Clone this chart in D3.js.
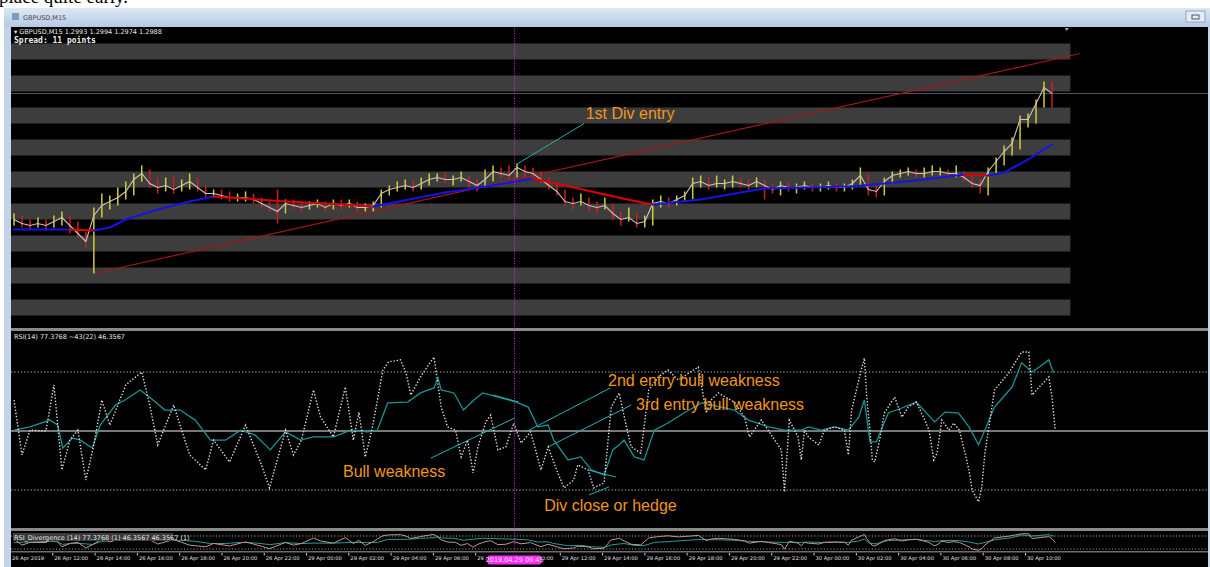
<!DOCTYPE html>
<html>
<head>
<meta charset="utf-8">
<title>GBPUSD,M15</title>
<script src="https://cdn.jsdelivr.net/npm/d3@7/dist/d3.min.js"></script>
<style>
  body { margin: 0; background: #fff; overflow: hidden; }
  svg { display: block; }
  .small { font-family: "DejaVu Sans", sans-serif; font-size: 6.5px; fill: #e6e6e6; }
  .note { font-family: "Liberation Sans", Arial, sans-serif; font-size: 16px; fill: #f0961c; }
  .taxis text { font-family: "DejaVu Sans", sans-serif; font-size: 5.2px; fill: #e0e0e0; }
  .taxis line { stroke: #d0d0d0; }
</style>
</head>
<body>
<div id="box"></div>
<script>
// GBPUSD M15 bars (close / high / low)
const closes = [1.2925,1.2923,1.2922,1.2923,1.2922,1.2924,1.2926,1.2922,1.2918,1.2914,
  1.2927,1.2932,1.2934,1.2936,1.2939,1.2945,1.2948,1.2943,1.2941,1.2942,
  1.2940,1.2942,1.2944,1.2941,1.2938,1.2938,1.2937,1.2936,1.2936,1.2936,
  1.2935,1.2933,1.2931,1.2929,1.2933,1.2932,1.2931,1.2932,1.2933,1.2931,
  1.2933,1.2932,1.2933,1.2931,1.2931,1.2932,1.2938,1.2940,1.2941,1.2942,
  1.2941,1.2943,1.2945,1.2946,1.2945,1.2945,1.2946,1.2944,1.2942,1.2945,
  1.2949,1.2948,1.2947,1.2951,1.2949,1.2948,1.2945,1.2942,1.2939,1.2934,
  1.2933,1.2934,1.2932,1.2931,1.2932,1.2928,1.2925,1.2926,1.2923,1.2924,
  1.2933,1.2934,1.2933,1.2935,1.2937,1.2943,1.2944,1.2942,1.2943,1.2943,
  1.2944,1.2943,1.2942,1.2944,1.2942,1.2940,1.2942,1.2941,1.2941,1.2942,
  1.2941,1.2941,1.2942,1.2941,1.2941,1.2943,1.2947,1.2940,1.2939,1.2944,
  1.2947,1.2948,1.2949,1.2948,1.2948,1.2949,1.2949,1.2948,1.2948,1.2946,
  1.2943,1.2942,1.2949,1.2954,1.2959,1.2963,1.2975,1.2975,1.2983,1.2991,
  1.2988]
const highs = [1.2928,1.2927,1.2925,1.2926,1.2925,1.2927,1.2929,1.2927,1.2924,1.2919,
  1.2931,1.2938,1.2937,1.2941,1.2944,1.2948,1.2952,1.2950,1.2946,1.2946,
  1.2947,1.2945,1.2948,1.2946,1.2942,1.2940,1.2940,1.2939,1.2938,1.2939,
  1.2938,1.2936,1.2934,1.2940,1.2935,1.2935,1.2934,1.2934,1.2935,1.2934,
  1.2935,1.2935,1.2935,1.2934,1.2933,1.2934,1.2940,1.2942,1.2944,1.2945,
  1.2944,1.2946,1.2948,1.2948,1.2948,1.2947,1.2949,1.2947,1.2945,1.2950,
  1.2952,1.2951,1.2952,1.2953,1.2952,1.2951,1.2949,1.2946,1.2943,1.2940,
  1.2936,1.2938,1.2936,1.2934,1.2936,1.2933,1.2929,1.2931,1.2928,1.2927,
  1.2935,1.2937,1.2936,1.2937,1.2939,1.2946,1.2947,1.2946,1.2947,1.2945,
  1.2947,1.2946,1.2945,1.2946,1.2945,1.2943,1.2944,1.2944,1.2943,1.2944,
  1.2943,1.2943,1.2944,1.2943,1.2943,1.2945,1.2951,1.2948,1.2942,1.2946,
  1.2949,1.2950,1.2951,1.2950,1.2951,1.2952,1.2951,1.2950,1.2952,1.2949,
  1.2947,1.2945,1.2951,1.2956,1.2962,1.2966,1.2977,1.2978,1.2985,1.2994,
  1.2994]
const lows = [1.2922,1.2921,1.2920,1.2921,1.2920,1.2921,1.2922,1.2918,1.2916,1.2911,
  1.2898,1.2926,1.2930,1.2932,1.2935,1.2937,1.2944,1.2941,1.2938,1.2939,
  1.2938,1.2939,1.2940,1.2939,1.2936,1.2936,1.2935,1.2934,1.2934,1.2934,
  1.2933,1.2931,1.2929,1.2923,1.2928,1.2930,1.2929,1.2930,1.2931,1.2929,
  1.2930,1.2930,1.2931,1.2929,1.2929,1.2929,1.2931,1.2937,1.2939,1.2940,
  1.2939,1.2940,1.2942,1.2944,1.2943,1.2942,1.2944,1.2941,1.2939,1.2941,
  1.2944,1.2946,1.2945,1.2946,1.2946,1.2946,1.2943,1.2940,1.2937,1.2932,
  1.2930,1.2932,1.2929,1.2928,1.2930,1.2925,1.2922,1.2924,1.2921,1.2921,
  1.2922,1.2931,1.2931,1.2932,1.2934,1.2935,1.2941,1.2940,1.2941,1.2940,
  1.2941,1.2941,1.2940,1.2941,1.2935,1.2938,1.2937,1.2939,1.2938,1.2940,
  1.2939,1.2939,1.2940,1.2939,1.2939,1.2940,1.2942,1.2937,1.2936,1.2937,
  1.2943,1.2946,1.2947,1.2946,1.2946,1.2947,1.2947,1.2946,1.2946,1.2944,
  1.2941,1.2938,1.2937,1.2948,1.2952,1.2957,1.2960,1.2971,1.2973,1.2981,
  1.2981]

// moving average (bar index / value)
const maAt = [0, 7, 10, 12, 14, 18, 22, 25, 29, 34, 39, 45, 54, 60, 65, 69, 74, 78, 80, 86, 94, 105, 113, 119, 122, 124, 127, 130]
const maValues = [1.2920, 1.2920, 1.29195, 1.2921, 1.2925, 1.2930, 1.2934, 1.29365, 1.29355, 1.2934, 1.2933, 1.29315,
  1.29385, 1.2942, 1.29455, 1.2942, 1.29375, 1.2934, 1.29325, 1.2935, 1.29405, 1.29415, 1.29445, 1.29475,
  1.2947, 1.29485, 1.2955, 1.29625]

// price zones (top of each grey band)
const bandTops = [1.3013, 1.2997, 1.2981, 1.2965, 1.2949, 1.2933, 1.2917, 1.2901, 1.2885]
const bandDepth = 0.0008

// RSI(14) and its average, vertices (bar index / value)
const rsiAt = [0,1,2,4,5,6,7,8,9,10,11,12,14,16,17,18,20,21,22,24,25,27,29,31,32,34,35,36,
  37.5,38.4,40,41.5,42.5,43.2,44,44.9,46.2,46.9,48.4,49.1,49.7,50.9,52.6,53.5,54.3,55.3,56,56.8,
  57.5,58.1,59.1,59.7,60.6,61.6,62.6,63.5,64.7,66,66.9,68.1,68.9,70.1,70.6,71.9,72.6,73.9,74.8,
  75.8,76.7,77.3,78.5,79.5,80.7,81.9,83.2,85.7,86.7,87.3,88.2,90.2,91.5,92.1,93.6,96.1,96.5,97.1,
  98.2,98.6,99,99.5,100.8,101.5,102.8,104,104.5,104.9,105.3,106.1,106.5,106.8,107.2,107.5,107.8,
  108.4,109,110.3,111.2,112,113,113.9,114.6,115.2,115.6,116.2,117.1,117.7,118.4,119.1,119.6,120,
  120.8,121.2,121.6,122.1,122.8,124.6,126.2,127.1,127.5,128.4,129.6,130,130.4]
const rsiFast = [60.5,41.9,50.3,50.0,65.6,36.8,46.9,50.3,33.4,45.3,60.5,52.0,65.6,70.0,58.8,45.3,58.8,50.3,41.9,36.8,46.9,39.5,52.0,38.5,30.7,50.3,41.9,46.9,
  63.9,54.7,48.0,64.9,46.9,56.4,41.2,51.4,70.7,73.4,74.1,69.7,62.2,68.3,75.1,58.1,51.4,50.3,41.2,46.9,
  35.8,44.6,53.1,55.4,43.6,44.6,52.7,45.9,49.7,36.8,44.6,35.8,30.7,33.4,38.5,36.8,30.7,32.4,58.1,
  62.9,51.4,44.6,42.5,63.9,68.3,70.7,67.3,71.7,56.1,60.5,62.9,59.8,54.7,48.0,53.7,43.6,29.3,53.7,
  48.0,40.2,50.3,47.9,45.3,50.3,51.4,50.3,41.9,57.1,61.5,70.7,74.7,61.5,50.3,40.2,39.5,
  46.9,56.1,61.5,54.7,58.1,59.8,54.7,50.3,40.2,42.5,53.7,50.3,52.7,50.3,42.5,36.8,30.0,
  26.0,31.0,42.5,51.4,63.9,69.7,76.8,76.8,62.2,64.9,68.3,61.5,50.3]
const sigAt = [0,2,4.5,5.5,6.1,7.3,8.3,9.8,10.8,12.7,13.9,15.8,17.1,18.9,20.8,22.7,24.6,26.5,28.4,30.2,32.1,34,35.9,
  37.5,40,42.2,44.3,45.5,46.8,49.3,50.9,52.6,53.1,53.5,55.1,56.3,57.6,58.7,59.7,61,62.9,64.4,65.6,66.9,
  67.6,69.4,71,72.3,73.9,75,75.8,76.4,77.7,78.9,80.2,81.9,83.9,86.1,88.6,90.2,92,94.5,96.5,98.6,99.5,
  101.1,102.8,104.5,105.8,106.5,107.2,108,109.5,111.2,113,115.3,116.6,118.3,119.6,120.8,121.6,122.8,
  125,126.2,127.5,128.4,129.6,130.2]
const rsiSlow = [50.3,51.4,53.7,52.0,44.2,47.6,46.9,44.2,52.0,58.8,60.5,63.9,61.2,57.1,57.1,53.7,46.9,46.9,50.3,48.6,43.6,49.7,46.9,
  48.0,48.0,50.3,49.7,50.3,59.5,59.8,62.9,64.6,68.0,63.9,62.9,57.1,60.5,62.9,62.2,61.2,59.8,58.1,51.4,52.0,
  46.9,40.2,41.2,36.8,35.1,43.6,45.3,46.9,41.2,40.2,50.3,52.7,56.1,59.5,58.1,57.1,53.7,51.4,50.3,50.3,51.4,
  50.3,51.4,50.3,54.7,60.5,46.3,46.3,56.1,57.8,59.8,53.1,56.4,56.1,51.4,45.3,50.3,58.1,
  64.9,73.1,70.0,71.7,74.1,69.7]
const rsiLevels = [70, 50, 30]

// time axis
const timeLabels = ['26 Apr 2019','26 Apr 12:00','26 Apr 14:00','26 Apr 16:00','26 Apr 18:00','26 Apr 20:00',
  '26 Apr 22:00','29 Apr 00:00','29 Apr 02:00','29 Apr 04:00','29 Apr 06:00','29 Apr 08:00','29 Apr 10:00',
  '29 Apr 12:00','29 Apr 14:00','29 Apr 16:00','29 Apr 18:00','29 Apr 20:00','29 Apr 22:00','30 Apr 00:00',
  '30 Apr 02:00','30 Apr 04:00','30 Apr 06:00','30 Apr 08:00','30 Apr 10:00']
const cursorBar = 62.7
const cursorLabel = '2019.04.29 09:45'

// hand drawn objects
const trendRed = [[10, 1.2898], [133.5, 1.3008]]
const divEntry = [[62.9, 1.29525], [71.4, 1.2973]]
const rsiLines = [
  [[52.2, 40.8], [62.7, 54.4]],
  [[64.1, 49.7], [74.7, 64.6]],
  [[66.9, 44.6], [77.3, 58.8]],
  [[71.9, 36.8], [75.4, 34.4]],
  [[72.0, 28.3], [74.5, 31.0]],
  [[60.0, 62.2], [63.2, 59.8]]
]
const rsiNotes = [
  { bar: 74.4, v: 65.3, text: '2nd entry bull weakness' },
  { bar: 77.9, v: 57.1, text: '3rd entry bull weakness' },
  { bar: 41.2, v: 34.4, text: 'Bull weakness' },
  { bar: 66.4, v: 22.9, text: 'Div close or hedge' }
]

const W = 1210, H = 567
const L = 11, R = 1208
const main = { top: 28, bot: 328 }
const rsiP = { top: 331, bot: 528 }
const sub = { top: 531, bot: 551 }

const x = d3.scaleLinear().domain([0, closes.length - 1]).range([14, 1052])
const y = d3.scaleLinear().domain([1.2870, 1.3020]).range([329.5, 29.5])
const yR = d3.scaleLinear().domain([30, 70]).range([490, 372])
const yS = d3.scaleLinear().domain([30, 70]).range([549, 536])
const xT = d3.scaleLinear().domain([0, timeLabels.length - 1]).range([10, 1025])

const svg = d3.select('#box').append('svg').attr('width', W).attr('height', H)
const defs = svg.append('defs')

// page and window chrome
svg.append('rect').attr('width', W).attr('height', H).attr('fill', '#fff')
svg.append('text').attr('x', -1).attr('y', 3)
  .attr('font-family', '"Liberation Serif", serif').attr('font-size', 19).text('place quite early.')
svg.append('rect').attr('x', 4).attr('y', 8).attr('width', W - 4).attr('height', H - 8).attr('fill', '#c3d4e9')
const g1 = defs.append('linearGradient').attr('id', 'tbar').attr('x1', 0).attr('y1', 0).attr('x2', 0).attr('y2', 1)
g1.append('stop').attr('offset', '0%').attr('stop-color', '#dfe9f5')
g1.append('stop').attr('offset', '100%').attr('stop-color', '#b4c9e4')
svg.append('rect').attr('x', 4).attr('y', 8).attr('width', W - 4).attr('height', 19).attr('fill', 'url(#tbar)')
svg.append('rect').attr('x', 12).attr('y', 13).attr('width', 7).attr('height', 7).attr('fill', '#7d9cc4')
svg.append('text').attr('x', 23).attr('y', 20).attr('font-family', '"DejaVu Sans", sans-serif')
  .attr('font-size', 6.5).attr('fill', '#4a4a4a').text('GBPUSD,M15')
svg.append('rect').attr('x', 1186).attr('y', 11).attr('width', 19).attr('height', 11)
  .attr('fill', '#e4ecf6').attr('stroke', '#8ea5c3')
svg.append('rect').attr('x', 1192).attr('y', 15).attr('width', 7).attr('height', 4).attr('fill', 'none').attr('stroke', '#555')

svg.append('rect').attr('x', L).attr('y', 27).attr('width', R - L).attr('height', H - 27).attr('fill', '#000')

// clip regions
defs.append('clipPath').attr('id', 'cMain').append('rect')
  .attr('x', L).attr('y', main.top).attr('width', R - L).attr('height', main.bot - main.top)
defs.append('clipPath').attr('id', 'cRsi').append('rect')
  .attr('x', L).attr('y', rsiP.top).attr('width', R - L).attr('height', rsiP.bot - rsiP.top)
defs.append('clipPath').attr('id', 'cSub').append('rect')
  .attr('x', L).attr('y', sub.top).attr('width', R - L).attr('height', sub.bot - sub.top)

// ---------- main price panel ----------
const gm = svg.append('g').attr('clip-path', 'url(#cMain)')

gm.selectAll('.band').data(bandTops).enter().append('rect')
  .attr('x', L).attr('width', x(132.3) - L)
  .attr('y', d => y(d)).attr('height', d => y(d - bandDepth) - y(d))
  .attr('fill', '#3d3d3d')

// bid line
const last = closes[closes.length - 1]
gm.append('line').attr('x1', L).attr('x2', R).attr('y1', y(last)).attr('y2', y(last))
  .attr('stroke', '#4c5566').attr('stroke-width', 1)

const line = d3.line().x(d => x(d[0])).y(d => y(d[1]))
gm.append('path').attr('d', line(trendRed)).attr('stroke', '#a3171b').attr('stroke-width', 1.2).attr('fill', 'none')

gm.selectAll('.bar').data(closes).enter().append('line')
  .attr('x1', (d, i) => x(i)).attr('x2', (d, i) => x(i))
  .attr('y1', (d, i) => y(highs[i])).attr('y2', (d, i) => y(lows[i]))
  .attr('stroke', (d, i) => (i === 0 || d >= closes[i - 1]) ? '#cfcf35' : '#cc2020')
  .attr('stroke-width', 1.5)

gm.append('path').attr('d', d3.line().x((d, i) => x(i)).y(d => y(d))(closes))
  .attr('stroke', '#d0c0c0').attr('stroke-width', 1.1).attr('fill', 'none')

// colour-changing moving average: red while falling, blue while rising
const maPts = maAt.map((b, i) => [b, maValues[i]])
gm.selectAll('.ma').data(d3.pairs(maPts)).enter().append('path')
  .attr('d', d => line(d))
  .attr('stroke', d => d[1][1] < d[0][1] ? '#e00000' : '#1414e6')
  .attr('stroke-width', 2).attr('fill', 'none').attr('stroke-linecap', 'round')

gm.append('path').attr('d', line(divEntry)).attr('stroke', '#1fb0b0').attr('stroke-width', 1).attr('fill', 'none')
gm.append('text').attr('class', 'note').attr('x', x(71.6)).attr('y', y(1.29755)).text('1st Div entry')

svg.append('text').attr('class', 'small').attr('x', 14).attr('y', 34).text('\u25BE GBPUSD,M15  1.2993 1.2994 1.2974 1.2988')
svg.append('text').attr('x', 14).attr('y', 43).attr('font-family', '"DejaVu Sans Mono", monospace')
  .attr('font-weight', 'bold').attr('font-size', 8).attr('fill', '#f0f0f0').text('Spread: 11 points')

// ---------- RSI panel ----------
const gr = svg.append('g').attr('clip-path', 'url(#cRsi)')
gr.selectAll('.lvl').data(rsiLevels).enter().append('line')
  .attr('x1', L).attr('x2', R).attr('y1', d => yR(d)).attr('y2', d => yR(d))
  .attr('stroke', d => d === 50 ? '#a0a0a0' : '#b4b4b4')
  .attr('stroke-width', d => d === 50 ? 1.6 : 1.2)
  .attr('stroke-dasharray', d => d === 50 ? null : '1.3,2')

const rLine = d3.line().x(d => x(d[0])).y(d => yR(d[1]))
gr.append('path').attr('d', rLine(sigAt.map((b, i) => [b, rsiSlow[i]])))
  .attr('stroke', '#179595').attr('stroke-width', 1.3).attr('fill', 'none')
gr.append('path').attr('d', rLine(rsiAt.map((b, i) => [b, rsiFast[i]])))
  .attr('stroke', '#dcdcdc').attr('stroke-width', 1.4).attr('stroke-dasharray', '1.4,1.8').attr('fill', 'none')

gr.selectAll('.ann').data(rsiLines).enter().append('path')
  .attr('d', d => rLine(d)).attr('stroke', '#20b4b4').attr('stroke-width', 1).attr('fill', 'none')
gr.selectAll('.rn').data(rsiNotes).enter().append('text').attr('class', 'note')
  .attr('x', d => x(d.bar)).attr('y', d => yR(d.v)).text(d => d.text)

svg.append('text').attr('class', 'small').attr('x', 14).attr('y', 339).attr('fill', '#c8c8c8')
  .text('RSI(14) 77.3768  ~43(22) 46.3567')

// ---------- small divergence panel ----------
const gs = svg.append('g').attr('clip-path', 'url(#cSub)')
gs.selectAll('.slvl').data([70, 30]).enter().append('line')
  .attr('x1', L).attr('x2', R).attr('y1', d => yS(d)).attr('y2', d => yS(d))
  .attr('stroke', '#9a9a9a').attr('stroke-dasharray', '1.2,2')
const sLine = d3.line().x(d => x(d[0])).y(d => yS(d[1]))
gs.append('path').attr('d', sLine(sigAt.map((b, i) => [b, rsiSlow[i]])))
  .attr('stroke', '#2a9c9c').attr('stroke-width', 1).attr('fill', 'none')
gs.append('path').attr('d', sLine(rsiAt.map((b, i) => [b, rsiFast[i]])))
  .attr('stroke', '#c99494').attr('stroke-width', 1).attr('fill', 'none')
gs.append('rect').attr('x', 13).attr('y', 533).attr('width', 160).attr('height', 8).attr('fill', '#3a3a3a')
gs.append('text').attr('class', 'small').attr('x', 14).attr('y', 539.5)
  .text('RSI_Divergence (14) 77.3768 (1) 46.3567 46.3567 (1)')

// panel separators
svg.selectAll('.sep').data([main.bot, rsiP.bot]).enter().append('rect')
  .attr('x', L).attr('width', R - L).attr('y', d => d).attr('height', 3).attr('fill', '#8a8a8a')
svg.append('rect').attr('x', L).attr('width', R - L).attr('y', sub.bot).attr('height', 1.5).attr('fill', '#6e6e6e')

// cursor
const cx = x(cursorBar)
svg.append('line').attr('x1', cx).attr('x2', cx).attr('y1', main.top).attr('y2', sub.bot)
  .attr('stroke', '#c23cc2').attr('stroke-width', 1).attr('stroke-dasharray', '1,1.5')
svg.append('path').attr('d', `M${x(131.6)},28 l4,0 l-2,3 z`).attr('fill', '#9aa8b8')

// time axis, hidden under the cursor label the way the terminal does it
const axClip = defs.append('clipPath').attr('id', 'cAxis')
axClip.append('rect').attr('x', 0).attr('y', 0).attr('width', cx - 28).attr('height', 20)
axClip.append('rect').attr('x', cx + 28).attr('y', 0).attr('width', W).attr('height', 20)

const tAxis = d3.axisBottom(xT).tickValues(d3.range(timeLabels.length))
  .tickFormat(i => timeLabels[i]).tickSize(3).tickSizeOuter(0)
const ga = svg.append('g').attr('class', 'taxis').attr('transform', `translate(0,${sub.bot + 1.5})`)
  .append('g').attr('clip-path', 'url(#cAxis)').call(tAxis)
ga.select('.domain').remove()
ga.selectAll('text').attr('text-anchor', 'start').attr('x', 1.5).attr('y', 4)

svg.append('rect').attr('x', cx - 27).attr('y', 555.5).attr('width', 54).attr('height', 9).attr('rx', 2).attr('fill', '#ff2bff')
svg.append('text').attr('class', 'small').attr('x', cx).attr('y', 562.3).attr('text-anchor', 'middle')
  .attr('font-size', 5.6).attr('fill', '#fff').text(cursorLabel)
</script>
</body>
</html>
